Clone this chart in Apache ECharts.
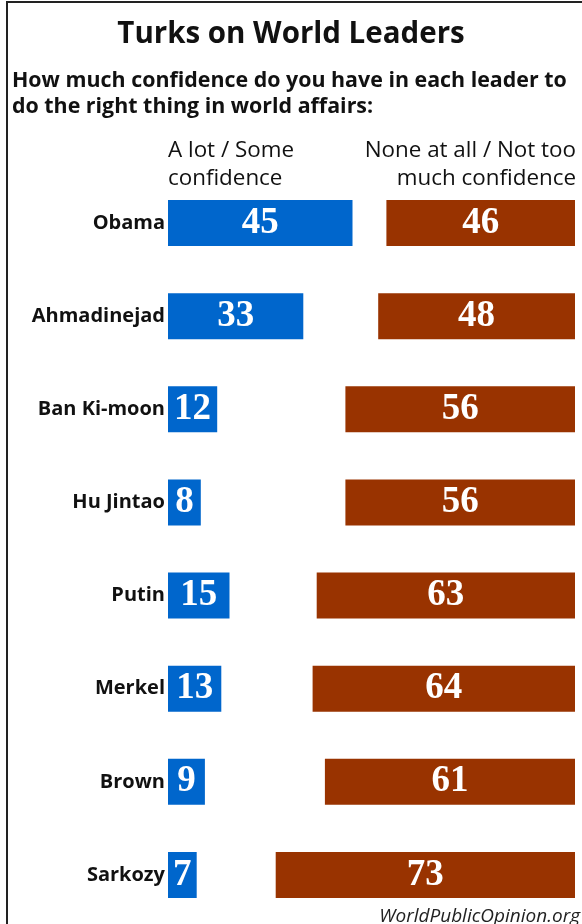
<!DOCTYPE html>
<html>
<head>
<meta charset="utf-8">
<script src="https://cdn.jsdelivr.net/npm/echarts@6/dist/echarts.min.js"></script>
<style>
  html, body { margin: 0; padding: 0; background: #ffffff; }
  #chart { width: 582px; height: 924px; }
</style>
</head>
<body>
<div id="chart"></div>
<script>
const leaders = ["Obama", "Ahmadinejad", "Ban Ki-moon", "Hu Jintao", "Putin", "Merkel", "Brown", "Sarkozy"];
const confidence = [45, 33, 12, 8, 15, 13, 9, 7];
const noConfidence = [46, 48, 56, 56, 63, 64, 61, 73];

const titleText = "Turks on World Leaders";
const subtitleText = "How much confidence do you have in each leader to\ndo the right thing in world affairs:";
const leftHeader = "A lot / Some\nconfidence";
const rightHeader = "None at all / Not too\nmuch confidence";
const sourceText = "WorldPublicOpinion.org";

const sans = "'Open Sans', Lato, sans-serif";
const serif = "'Liberation Serif', 'DejaVu Serif', serif";
const BLUE = "#0066cc";
const RED = "#993300";

const chart = echarts.init(document.getElementById('chart'), null, { renderer: 'canvas' });

const gridTop = 176.5;
const gridHeight = 745;

chart.setOption({
  backgroundColor: '#ffffff',
  animation: false,
  title: [
    { text: titleText, left: 'center', top: 17, padding: 0,
      textStyle: { fontFamily: sans, fontWeight: 'bold', fontSize: 29.5, lineHeight: 36, color: '#111' } },
    { text: subtitleText, left: 12, top: 67.5, padding: 0,
      textStyle: { fontFamily: sans, fontWeight: 'bold', fontSize: 21.4, lineHeight: 26, color: '#111' } },
    { text: sourceText, right: 2, top: 906, padding: 0,
      textStyle: { fontFamily: sans, fontStyle: 'italic', fontWeight: 'normal', fontSize: 19, lineHeight: 22, color: '#222' } }
  ],
  graphic: [
    { type: 'line', shape: { x1: 6, y1: 2, x2: 582, y2: 2 }, style: { stroke: '#222', lineWidth: 2 } },
    { type: 'line', shape: { x1: 7, y1: 1, x2: 7, y2: 924 }, style: { stroke: '#222', lineWidth: 2 } },
    { type: 'text', x: 168, y: 137, style: { text: leftHeader, fill: '#111', fontFamily: sans, fontSize: 22.4, fontWeight: 'normal', lineHeight: 28, align: 'left', verticalAlign: 'top' } },
    { type: 'text', x: 576, y: 137, style: { text: rightHeader, fill: '#111', fontFamily: sans, fontSize: 22.4, fontWeight: 'normal', lineHeight: 28, align: 'right', verticalAlign: 'top' } }
  ],
  grid: [
    { left: 168, width: 205, top: gridTop, height: gridHeight },
    { left: 247, width: 328, top: gridTop, height: gridHeight }
  ],
  xAxis: [
    { type: 'value', gridIndex: 0, min: 0, max: 50, show: false },
    { type: 'value', gridIndex: 1, min: 0, max: 80, inverse: true, show: false }
  ],
  yAxis: [
    { type: 'category', gridIndex: 0, data: leaders, inverse: true,
      axisLine: { show: false }, axisTick: { show: false }, splitLine: { show: false },
      axisLabel: { margin: 3, fontFamily: sans, fontWeight: 'bold', fontSize: 20, color: '#111' } },
    { type: 'category', gridIndex: 1, data: leaders, inverse: true, show: false }
  ],
  series: [
    { name: 'A lot / Some confidence', type: 'bar', xAxisIndex: 0, yAxisIndex: 0,
      data: confidence, barWidth: 46, itemStyle: { color: BLUE },
      label: { show: true, position: 'inside', color: '#fff', fontFamily: serif, fontWeight: 'bold', fontSize: 37 } },
    { name: 'None at all / Not too much confidence', type: 'bar', xAxisIndex: 1, yAxisIndex: 1,
      data: noConfidence, barWidth: 46, itemStyle: { color: RED },
      label: { show: true, position: 'inside', color: '#fff', fontFamily: serif, fontWeight: 'bold', fontSize: 37 } }
  ]
});
</script>
</body>
</html>
